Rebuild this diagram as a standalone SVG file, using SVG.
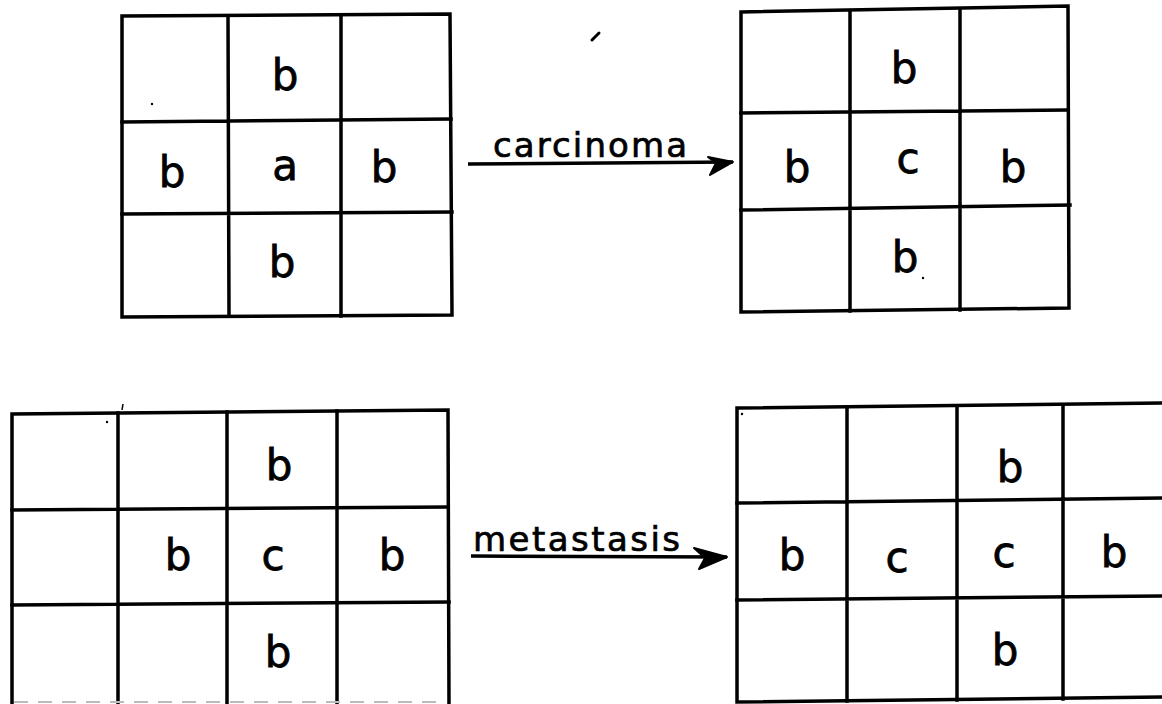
<svg xmlns="http://www.w3.org/2000/svg" width="1162" height="704" viewBox="0 0 1162 704">
<style>
.g{fill:none;stroke:#000;stroke-width:3.5;stroke-linecap:square;stroke-linejoin:miter}
.t{font-family:"DejaVu Sans",sans-serif;font-size:42px;fill:#000;stroke:#000;stroke-width:0.8;text-anchor:middle}
.lbl{font-family:"DejaVu Sans",sans-serif;font-size:34px;fill:#000;stroke:#000;stroke-width:0.7}
.arr{fill:none;stroke:#000;stroke-width:3.5}
.hd{fill:#000;stroke:#000;stroke-width:2;stroke-linejoin:round}
.mk{fill:#000}
</style>
<rect width="1162" height="704" fill="#fff"/>

<g id="grid-before-carcinoma">
<path class="g" d="M122,16 L450,14 L452,315 L122,317 Z"/>
<path class="g" d="M228,16 L229,316 M341,15 L341,316 M122,122 L451,119 M122,214 L452,212"/>
<text class="t" x="285" y="90">b</text>
<text class="t" x="172" y="187">b</text>
<text class="t" x="285" y="180">a</text>
<text class="t" x="384" y="182">b</text>
<text class="t" x="282" y="277">b</text>
<circle class="mk" cx="152" cy="104" r="1.2"/>
</g>

<g id="grid-after-carcinoma">
<path class="g" d="M741,12 L1068,6 L1069,308 L741,312 Z"/>
<path class="g" d="M850,11 L850,311 M960,9 L960,310 M741,113 L1068,110 M741,210 L1070,205"/>
<text class="t" x="904" y="83">b</text>
<text class="t" x="797" y="182">b</text>
<text class="t" x="908" y="173">c</text>
<text class="t" x="1013" y="182">b</text>
<text class="t" x="905" y="272">b</text>
<circle class="mk" cx="923" cy="278" r="1.2"/>
</g>

<g id="grid-before-metastasis">
<path class="g" d="M12,704 L12,414 L448,410 L449,704"/>
<path class="g" d="M118,413 L118,704 M227,412 L227,704 M337,411 L337,704 M12,510 L448,507 M12,605 L449,602"/>
<line x1="14" y1="702" x2="446" y2="702" stroke="#bbb" stroke-width="2" stroke-dasharray="14,10"/>
<text class="t" x="279" y="480">b</text>
<text class="t" x="178" y="570">b</text>
<text class="t" x="273" y="570">c</text>
<text class="t" x="392" y="570">b</text>
<text class="t" x="278" y="667">b</text>
<line x1="123" y1="404" x2="122" y2="410" stroke="#000" stroke-width="1.5"/>
<circle class="mk" cx="107" cy="422" r="1.2"/>
</g>

<g id="grid-after-metastasis">
<path class="g" d="M1162,403 L737,408 L737,702 L1162,697"/>
<path class="g" d="M847,407 L847,701 M957,406 L957,700 M1063,405 L1063,699 M737,503 L1162,498 M737,600 L1162,596"/>
<text class="t" x="792" y="570">b</text>
<text class="t" x="1010" y="482">b</text>
<text class="t" x="897" y="572">c</text>
<text class="t" x="1004" y="567">c</text>
<text class="t" x="1114" y="567">b</text>
<text class="t" x="1005" y="665">b</text>
<circle class="mk" cx="742" cy="414" r="1.2"/>
</g>

<g id="connectors">
<path class="arr" d="M468,164 L733,162"/>
<path class="hd" d="M733,162 L708,157 L716,163 L710,175 Z"/>
<text class="lbl" x="493" y="157" textLength="194" lengthAdjust="spacing">carcinoma</text>
<path class="arr" d="M471,556 L727,557"/>
<path class="hd" d="M727,557 L694,548 L705,558 L699,569 Z"/>
<text class="lbl" x="473" y="551" textLength="207" lengthAdjust="spacing">metastasis</text>
<line x1="592" y1="40" x2="599" y2="33" stroke="#000" stroke-width="3" stroke-linecap="round"/>
</g>
</svg>
